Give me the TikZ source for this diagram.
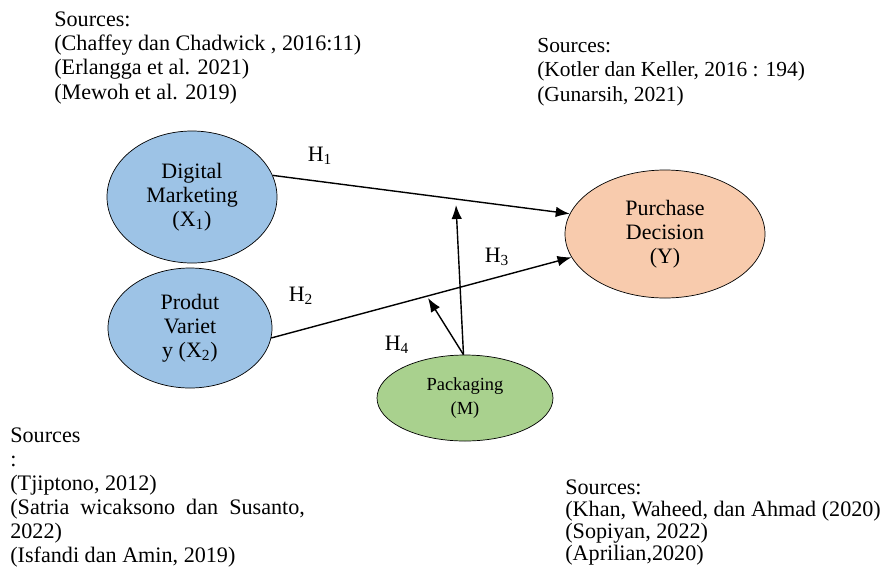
\documentclass[tikz,border=0pt]{standalone}
\usepackage{fontspec}
\setmainfont{Liberation Serif}
\usetikzlibrary{shapes.geometric,arrows.meta}
\definecolor{varblue}{RGB}{157,195,230}
\definecolor{varorange}{RGB}{248,203,173}
\definecolor{vargreen}{RGB}{169,209,142}
\tikzset{
  varnode/.style={shape=ellipse,draw,align=center,inner sep=0pt,font=\fontsize{12.5}{13.8}\selectfont},
  srcnode/.style={anchor=north west,align=left,inner sep=0pt},
  hlabel/.style={font=\fontsize{12.5}{14}\selectfont}
}
\begin{document}
\begin{tikzpicture}[>={Latex[length=2.8mm,width=2.1mm]}]
\useasboundingbox (0,0) rectangle (17.78,-11.48);
% sources
\node(srcx1) at (1.08,-0.22)[srcnode,font=\fontsize{12.6}{13.9}\selectfont]
  {Sources:\\(Chaffey dan Chadwick , 2016:11)\\(Erlangga et al. 2021)\\(Mewoh et al. 2019)};
\node(srcy) at (10.74,-0.76)[srcnode,font=\fontsize{12.2}{13.9}\selectfont]
  {Sources:\\(Kotler dan Keller, 2016 : 194)\\(Gunarsih, 2021)};
\node(srcx2) at (0.20,-8.55)[srcnode,font=\fontsize{12.6}{13.6}\selectfont]
  {Sources\\:\\(Tjiptono, 2012)\\(Satria\ \ wicaksono\ \ dan\ \ Susanto,\\2022)\\(Isfandi dan Amin, 2019)};
\node(srcm) at (11.30,-9.58)[srcnode,font=\fontsize{12.6}{12.7}\selectfont]
  {Sources:\\(Khan, Waheed, dan Ahmad (2020)\\(Sopiyan, 2022)\\(Aprilian,2020)};
% variables
\node(dm) at (3.84,-3.94)[varnode,fill=varblue,minimum width=3.4cm,minimum height=2.64cm]
  {Digital\\Marketing\\(X\textsubscript{1})};
\node(pv) at (3.80,-6.56)[varnode,fill=varblue,minimum width=3.28cm,minimum height=2.4cm]
  {Produt\\Variet\\y (X\textsubscript{2})};
\node(pd) at (13.30,-4.68)[varnode,fill=varorange,minimum width=4.0cm,minimum height=2.56cm]
  {Purchase\\Decision\\(Y)};
\node(pk) at (9.30,-7.96)[varnode,fill=vargreen,minimum width=3.52cm,minimum height=1.72cm,font=\fontsize{10.5}{13.4}\selectfont]
  {Packaging\\(M)};
\coordinate(h1m) at (9.12,-4.10);
\coordinate(h3m) at (8.56,-5.96);
% hypotheses
\node(h1) at (6.40,-3.12)[hlabel]{H\textsubscript{1}};
\node(h2) at (6.02,-5.92)[hlabel]{H\textsubscript{2}};
\node(h3) at (9.94,-5.14)[hlabel]{H\textsubscript{3}};
\node(h4) at (7.94,-6.90)[hlabel]{H\textsubscript{4}};
\path [->,thick]
  (dm.15)  edge  (pd.168)
  (pv.-7)  edge  (pd.194)
  (pk.92)  edge  (h1m)
  (pk.92)  edge  (h3m);
\end{tikzpicture}
\end{document}
